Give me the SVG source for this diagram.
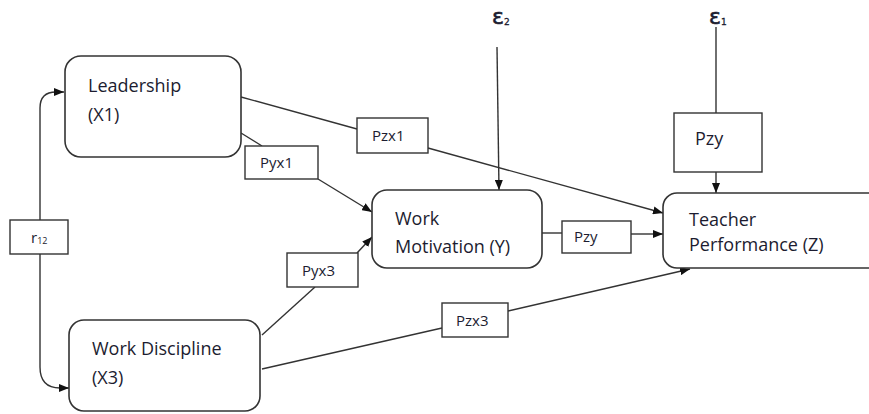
<svg xmlns="http://www.w3.org/2000/svg" width="869" height="414" viewBox="0 0 869 414">
<style>
.node{fill:#fff;stroke:#333;stroke-width:1.6}
.lbl{fill:#fff;stroke:#333;stroke-width:1.4}
.t{font-family:"Open Sans","Liberation Sans",sans-serif;font-size:18px;fill:#1c1c30}
.s{font-family:"Open Sans","Liberation Sans",sans-serif;font-size:15px;fill:#1c1c30}
.e{font-family:"DejaVu Sans","Liberation Sans",sans-serif;font-size:22px;fill:#1c1c30;stroke:#1c1c30;stroke-width:0.6}
.c{fill:none;stroke:#333;stroke-width:1.4}
</style>
<defs>
<marker id="ah" markerUnits="userSpaceOnUse" markerWidth="10" markerHeight="8" refX="10" refY="4" orient="auto">
<path d="M0,0 L10,4 L0,8 z" fill="#111"/>
</marker>
</defs>
<g id="connectors">
<path class="c" d="M40,220 L40,108 Q40,92 56,92 L64,92" marker-end="url(#ah)"/>
<path class="c" d="M40,254 L40,367 Q40,388 60,388 L69,388" marker-end="url(#ah)"/>
<line class="c" x1="241" y1="97" x2="357" y2="129"/>
<line class="c" x1="428" y1="148" x2="663" y2="213" marker-end="url(#ah)"/>
<line class="c" x1="241" y1="133" x2="262" y2="146"/>
<line class="c" x1="318" y1="179" x2="372" y2="212" marker-end="url(#ah)"/>
<line class="c" x1="262" y1="335" x2="315" y2="287"/>
<line class="c" x1="357" y1="253" x2="372" y2="237" marker-end="url(#ah)"/>
<line class="c" x1="262" y1="369" x2="442" y2="328"/>
<line class="c" x1="508" y1="311" x2="690" y2="269" marker-end="url(#ah)"/>
<line class="c" x1="497" y1="47" x2="499" y2="190" marker-end="url(#ah)"/>
<line class="c" x1="542" y1="233" x2="562" y2="233"/>
<line class="c" x1="631" y1="234" x2="663" y2="234" marker-end="url(#ah)"/>
<line class="c" x1="716" y1="27" x2="716" y2="113"/>
<line class="c" x1="716" y1="172" x2="716" y2="193" marker-end="url(#ah)"/>
</g>
<g id="leadership">
<rect class="node" x="65" y="56" width="176" height="101" rx="16"/>
<text class="t" x="88" y="92">Leadership</text>
<text class="t" x="88" y="121">(X1)</text>
</g>
<g id="work-discipline">
<rect class="node" x="69" y="320" width="191" height="91" rx="15"/>
<text class="t" x="92" y="355">Work Discipline</text>
<text class="t" x="92" y="384">(X3)</text>
</g>
<g id="work-motivation">
<rect class="node" x="372" y="190" width="170" height="78" rx="15"/>
<text class="t" x="395" y="225">Work</text>
<text class="t" x="395" y="253">Motivation (Y)</text>
</g>
<g id="teacher-performance">
<rect class="node" x="663" y="193" width="230" height="75" rx="14"/>
<text class="t" x="689" y="226">Teacher</text>
<text class="t" x="689" y="251">Performance (Z)</text>
</g>
<g id="r12">
<rect class="lbl" x="10" y="220" width="58" height="34"/>
<text class="s" x="31" y="243">r<tspan font-size="9" dy="1">12</tspan></text>
</g>
<g id="pyx1">
<rect class="lbl" x="245" y="146" width="73" height="33"/>
<text class="s" x="260" y="168">Pyx1</text>
</g>
<g id="pzx1">
<rect class="lbl" x="357" y="118" width="71" height="35"/>
<text class="s" x="372" y="141">Pzx1</text>
</g>
<g id="pyx3">
<rect class="lbl" x="287" y="253" width="71" height="34"/>
<text class="s" x="302" y="276">Pyx3</text>
</g>
<g id="pzx3">
<rect class="lbl" x="442" y="303" width="66" height="34"/>
<text class="s" x="456" y="326">Pzx3</text>
</g>
<g id="pzy-small">
<rect class="lbl" x="562" y="221" width="69" height="32"/>
<text class="s" x="574" y="242">Pzy</text>
</g>
<g id="pzy">
<rect class="lbl" x="674" y="113" width="88" height="59"/>
<text class="t" x="695" y="145" font-size="19">Pzy</text>
</g>
<g id="e2">
<text class="e" x="492" y="24">ε<tspan font-size="9" dy="1" stroke-width="0.3">2</tspan></text>
</g>
<g id="e1">
<text class="e" x="709" y="24">ε<tspan font-size="9" dy="1" stroke-width="0.3">1</tspan></text>
</g>
</svg>
